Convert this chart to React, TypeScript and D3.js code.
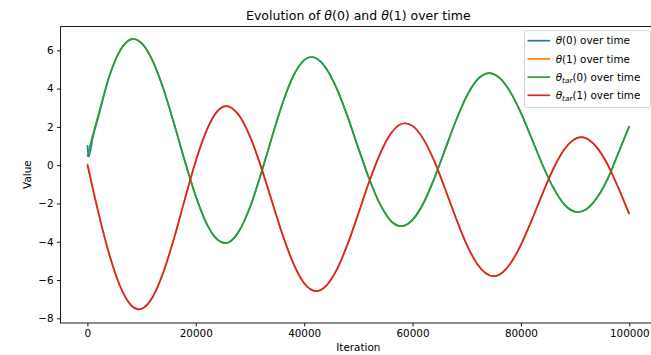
import { useEffect, useRef } from 'react';
import * as d3 from 'd3';

const WIDTH = 651;
const HEIGHT = 355;

const X_TICKS = [0, 20000, 40000, 60000, 80000, 100000];
const Y_TICKS = [-8, -6, -4, -2, 0, 2, 4, 6];

// [iteration, value] pairs
const TARGET0: [number, number][] = [
  [0, 0.44], [1000, 1.58], [2000, 2.6], [4000, 4.61], [6000, 5.97], [8000, 6.57], [8430, 6.59],
  [10000, 6.37], [12000, 5.47], [14000, 4.0], [16000, 2.16], [18000, 0.19], [20000, -1.62],
  [22000, -3.05], [24000, -3.89], [25400, -4.07], [26000, -4.04], [28000, -3.44], [30000, -2.2],
  [32000, -0.49], [34000, 1.41], [36000, 3.22], [38000, 4.66], [40000, 5.49], [41300, 5.65],
  [42000, 5.61], [44000, 5.08], [46000, 4.01], [48000, 2.55], [50000, 0.89], [52000, -0.71],
  [54000, -2.04], [56000, -2.91], [57900, -3.19], [60000, -2.86], [62000, -1.99], [64000, -0.7],
  [66000, 0.81], [68000, 2.32], [70000, 3.61], [72000, 4.48], [74100, 4.81], [76000, 4.57],
  [78000, 3.84], [80000, 2.73], [82000, 1.38], [84000, 0.01], [86000, -1.19], [88000, -2.05],
  [90500, -2.46], [92000, -2.32], [94000, -1.72], [96000, -0.72], [98000, 0.65], [100000, 2.04],
];

const TARGET1: [number, number][] = [
  [0, 0.02], [1000, -1.23], [2000, -2.44], [4000, -4.62], [6000, -6.3], [8000, -7.3], [9500, -7.53],
  [10000, -7.5], [12000, -6.91], [14000, -5.61], [16000, -3.81], [18000, -1.76], [20000, 0.22],
  [22000, 1.82], [24000, 2.82], [25600, 3.08], [28000, 2.59], [30000, 1.5], [32000, -0.05],
  [34000, -1.84], [36000, -3.62], [38000, -5.13], [40000, -6.17], [42200, -6.58], [44000, -6.32],
  [46000, -5.47], [48000, -4.14], [50000, -2.53], [52000, -0.87], [54000, 0.59], [56000, 1.66],
  [58600, 2.19], [60000, 2.05], [62000, 1.36], [64000, 0.22], [66000, -1.23], [68000, -2.76],
  [70000, -4.15], [72000, -5.19], [74900, -5.8], [76000, -5.72], [78000, -5.16], [80000, -4.16],
  [82000, -2.87], [84000, -1.47], [86000, -0.18], [88000, 0.82], [91100, 1.46], [92000, 1.41],
  [94000, 0.93], [96000, 0.03], [98000, -1.2], [100000, -2.56],
];

// theta starts off target, then sits right under it
const THETA0_START: [number, number][] = [[0, 1.05], [250, 0.45], [1000, 1.45], [2000, 2.5]];
const THETA1_START: [number, number][] = [[0, 0.08], [300, -0.28]];

const THETA0 = [...THETA0_START, ...TARGET0.filter((d) => d[0] > 2000)];
const THETA1 = [...THETA1_START, ...TARGET1.filter((d) => d[0] >= 1000)];

const SERIES = [
  { data: THETA0, color: '#1f77b4', tar: false, idx: '0' },
  { data: THETA1, color: '#ff7f0e', tar: false, idx: '1' },
  { data: TARGET0, color: '#2ca02c', tar: true, idx: '0' },
  { data: TARGET1, color: '#d62728', tar: true, idx: '1' },
];

const FONT = 'DejaVu Sans';

export default function App() {
  const svgRef = useRef<SVGSVGElement>(null);

  useEffect(() => {
    const svg = d3.select(svgRef.current);
    svg.selectAll('*').remove();

    const left = 60.3;
    const right = 656.4;
    const top = 26.3;
    const bottom = 323;

    const x = d3.scaleLinear().domain([-5000, 105000]).range([left, right]);
    const y = d3.scaleLinear().domain([-8.245, 7.254]).range([bottom, top]);

    svg.append('rect').attr('width', WIDTH).attr('height', HEIGHT).attr('fill', '#fff');

    // lines
    const line = d3
      .line<[number, number]>()
      .x((d) => x(d[0]))
      .y((d) => y(d[1]))
      .curve(d3.curveMonotoneX);

    SERIES.forEach((s) => {
      svg
        .append('path')
        .attr('d', line(s.data))
        .attr('fill', 'none')
        .attr('stroke', s.color)
        .attr('stroke-width', 1.7)
        .attr('stroke-linejoin', 'round');
    });

    // axes
    const fmtY = (d: number) => (d < 0 ? '\u2212' + Math.abs(d) : String(d));
    const gx = svg
      .append('g')
      .attr('transform', `translate(0,${bottom})`)
      .call(d3.axisBottom(x).tickValues(X_TICKS).tickFormat(d3.format('d')).tickSize(3.5).tickPadding(3.5));
    const gy = svg
      .append('g')
      .attr('transform', 'translate(60.5,0)')
      .call(d3.axisLeft(y).tickValues(Y_TICKS).tickFormat((d) => fmtY(+d)).tickSize(3.5).tickPadding(3.5));
    [gx, gy].forEach((g) => {
      g.select('.domain').remove();
      g.selectAll('.tick line').attr('stroke', '#000').attr('stroke-width', 0.9);
      g.selectAll('text').attr('fill', '#000').style('font-size', '10.4px').style('font-family', FONT);
    });

    // spines
    const spine = (x1: number, y1: number, x2: number, y2: number) =>
      svg.append('line').attr('x1', x1).attr('y1', y1).attr('x2', x2).attr('y2', y2)
        .attr('stroke', '#000').attr('stroke-width', 0.9);
    spine(60.5, 26.5, 60.5, bottom);
    spine(60.5, 26.5, 657, 26.5);
    spine(60, bottom, 657, bottom);

    // title
    const title = svg.append('text')
      .attr('x', (left + right) / 2).attr('y', 20)
      .attr('text-anchor', 'middle')
      .style('font-family', FONT).style('font-size', '12.5px');
    title.append('tspan').text('Evolution of ');
    title.append('tspan').attr('font-style', 'italic').text('\u03b8');
    title.append('tspan').text('(0) and ');
    title.append('tspan').attr('font-style', 'italic').text('\u03b8');
    title.append('tspan').text('(1) over time');

    svg.append('text')
      .attr('x', (left + right) / 2).attr('y', 350.5)
      .attr('text-anchor', 'middle')
      .style('font-family', FONT).style('font-size', '10.4px')
      .text('Iteration');

    svg.append('text')
      .attr('transform', `translate(30.5,${(top + bottom) / 2}) rotate(-90)`)
      .attr('text-anchor', 'middle')
      .style('font-family', FONT).style('font-size', '10.4px')
      .text('Value');

    // legend
    const lg = svg.append('g');
    lg.append('rect')
      .attr('x', 524.5).attr('y', 30.7).attr('width', 126).attr('height', 77)
      .attr('rx', 2.5)
      .attr('fill', '#fff').attr('fill-opacity', 0.8)
      .attr('stroke', '#ccc').attr('stroke-width', 0.9);

    SERIES.forEach((s, i) => {
      const ry = 40.7 + i * 18.2;
      lg.append('line')
        .attr('x1', 527.5).attr('x2', 550).attr('y1', ry).attr('y2', ry)
        .attr('stroke', s.color).attr('stroke-width', 1.7);
      const t = lg.append('text')
        .attr('x', 555.7).attr('y', ry + 3.7)
        .style('font-family', FONT).style('font-size', '10.4px');
      t.append('tspan').attr('font-style', 'italic').text('\u03b8');
      if (s.tar) {
        t.append('tspan').attr('font-style', 'italic').attr('font-size', '7.3px').attr('dy', 2.2).text('tar');
        t.append('tspan').attr('dy', -2.2).text(`(${s.idx}) over time`);
      } else {
        t.append('tspan').text(`(${s.idx}) over time`);
      }
    });
  }, []);

  return (
    <svg
      ref={svgRef}
      width={WIDTH}
      height={HEIGHT}
      style={{ position: 'absolute', left: 0, top: 0, display: 'block' }}
    />
  );
}
